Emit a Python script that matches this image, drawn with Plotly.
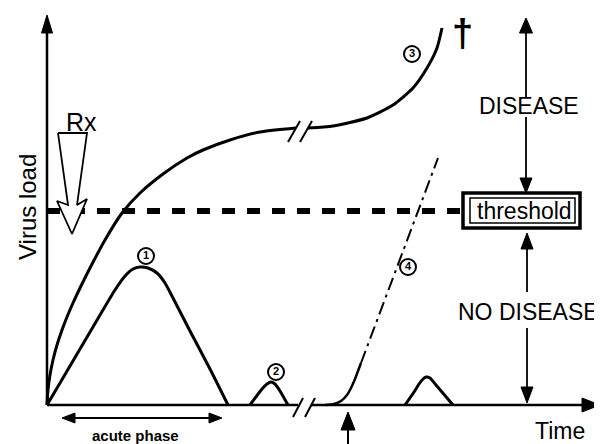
import plotly.graph_objects as go

# ---- data (time units, virus-load units; origin at the axes corner) ----
# curve 3: chronic progression to disease (split by the time break)
c3a_t = [0, 1, 3, 6, 10, 15, 20, 26, 34, 43, 58, 75, 93, 116, 140, 156, 183, 213, 249]
c3a_v = [0, 15, 30, 45, 60, 75, 88, 102, 119, 137, 165, 192, 212, 231, 247, 255, 265, 273, 277]
c3b_t = [261, 286, 320, 346, 366, 380, 390, 395]
c3b_v = [277, 279, 287, 300, 317, 337, 357, 377]
# curve 1: acute infection
c1_t = [0, 13, 33, 53, 68, 78, 86, 93, 101, 110, 118, 126, 143, 163, 181]
c1_v = [0, 22, 56, 90, 115, 129, 136, 138, 137, 132, 122, 107, 74, 36, 0]
# curve 2: small reactivation
c2_t = [203, 215, 220, 224, 228, 233, 241]
c2_v = [0, 16, 21, 23, 21, 14, 0]
# curve 4: late reactivation (solid start, then dash-dot)
c4s_t = [278, 287, 294, 300, 304, 308, 311, 314]
c4s_v = [0, 1, 4, 10, 17, 26, 34, 42]
c4d_t = [314, 391]
c4d_v = [42, 247]
# small bump after break
c5_t = [358, 367, 372, 376, 379, 383, 389, 406]
c5_v = [0, 13, 21, 26, 28, 27, 20, 0]

threshold = 194
t_end = 538          # end of time axis line
v_end = 373          # end of load axis line
t_break = [251, 264]  # gap in time axis
label_pos = {"1": (99, 149), "2": (229, 33), "3": (365, 351), "4": (361, 138)}
rx_t = [11, 21, 10, 25, 40, 30, 40, 11]
rx_v = [272, 200, 204, 171, 206, 200, 272, 272]

FONT = "Liberation Sans, Arial, Helvetica, sans-serif"
fig = go.Figure()

def line(t, v, width=3, dash=None, shape="linear"):
    fig.add_trace(go.Scatter(x=t, y=v, mode="lines",
                             line=dict(color="black", width=width, dash=dash, shape=shape, smoothing=0.6),
                             hoverinfo="skip", showlegend=False))

def head(tx, ty, dx, dy, length, half):
    # filled triangle arrowhead, tip at (tx,ty), pointing along (dx,dy)
    bx, by = tx - dx * length, ty - dy * length
    px, py = -dy * half, dx * half
    fig.add_shape(type="path", xref="x", yref="y",
                  path=f"M {tx},{ty} L {bx+px},{by+py} L {bx-px},{by-py} Z",
                  fillcolor="black", line=dict(color="black", width=1))

# axes
line([0, 0], [0, v_end], width=2.5)
head(0, 390, 0, 1, 18, 5.5)
line([0, t_break[0]], [0, 0], width=2.5)
line([t_break[1], t_end], [0, 0], width=2.5)
head(553, 0, 1, 0, 18, 7)
for s in (0, 12):
    line([246 + s, 256 + s], [-12, 7], width=2)

# threshold
line([0, 416], [threshold, threshold], width=6, dash="13px,12px")

# curves
line(c1_t, c1_v, shape="spline")
line(c2_t, c2_v, shape="spline")
line(c3a_t, c3a_v, shape="spline")
line(c3b_t, c3b_v, shape="spline")
for s in (0, 12):
    line([241 + s, 253 + s], [263, 284], width=2)
line(c4s_t, c4s_v, width=2.5, shape="spline")
line(c4d_t, c4d_v, width=2, dash="13px,5px,3px,5px")
line(c5_t, c5_v, width=3, shape="spline")

# Rx hollow arrow
fig.add_trace(go.Scatter(x=rx_t, y=rx_v, mode="lines", fill="toself", fillcolor="white",
                         line=dict(color="black", width=1.8), hoverinfo="skip", showlegend=False))

# threshold box
fig.add_shape(type="rect", xref="x", yref="y", x0=416, x1=533, y0=177, y1=212,
              line=dict(color="black", width=3.5), fillcolor="white")
fig.add_shape(type="rect", xref="x", yref="y", x0=423, x1=528, y0=182, y1=207,
              line=dict(color="black", width=1.5))

# DISEASE arrow
line([479, 479], [372, 308], width=1.8)
line([479, 479], [288, 227], width=1.8)
head(479, 387, 0, 1, 15, 6.5)
head(479, 212, 0, -1, 15, 6)
# NO DISEASE arrow
line([480, 480], [156, 113], width=1.8)
line([480, 480], [77, 18], width=1.8)
head(480, 172, 0, 1, 16, 6)
head(480, 2, 0, -1, 16, 6)
# acute phase arrow
line([25, 165], [-13, -13], width=2)
head(15, -13, -1, 0, 13, 5)
head(175, -13, 1, 0, 13, 5)
# up arrow under time axis
line([301, 301], [-25, -39], width=2)
head(301, -7, 0, 1, 18, 7)

# circled labels
for k, (t, v) in label_pos.items():
    fig.add_trace(go.Scatter(x=[t], y=[v], mode="markers+text", text=[f"<b>{k}</b>"],
                             textposition="middle center",
                             textfont=dict(family=FONT, size=11, color="black"),
                             marker=dict(symbol="circle", size=16, color="white",
                                         line=dict(color="black", width=2)),
                             hoverinfo="skip", showlegend=False))

def text(t, v, s, size, bold=False, angle=0):
    fig.add_annotation(x=t, y=v, xref="x", yref="y", text=f"<b>{s}</b>" if bold else s,
                       showarrow=False, textangle=angle,
                       font=dict(family=FONT, size=size, color="black"),
                       xanchor="center", yanchor="middle")

text(477.5, 194, "threshold", 23)
text(482, 299, "DISEASE", 23)
text(481, 93, "NO DISEASE", 23)
text(513, -26, "Time", 23)
text(88, -30, "acute phase", 15, bold=True)
text(-20, 198, "Virus load", 24, angle=-90)
text(34.5, 283, "Rx", 25)
text(415, 372, "†", 38, bold=True)

# the page body adds an 8px offset, so the figure is 8px smaller and ranges shifted
fig.update_layout(width=594, height=436, margin=dict(l=0, r=0, t=0, b=0),
                  paper_bgcolor="white", plot_bgcolor="white",
                  xaxis=dict(range=[-39, 555], visible=False, fixedrange=True),
                  yaxis=dict(range=[-39, 397], visible=False, fixedrange=True))
fig.write_html("out.html")
